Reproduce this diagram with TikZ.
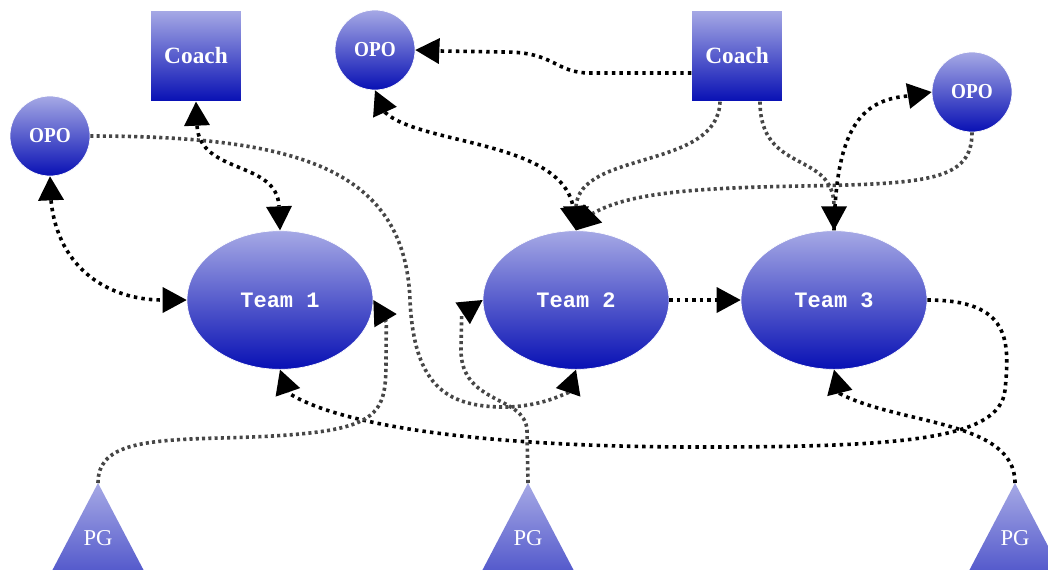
\documentclass[tikz,border=0pt]{standalone}
\usepackage{fontspec}
\setmainfont{Liberation Serif}
\newfontfamily\teamfont{Liberation Mono}
\newfontfamily\condfont[FakeStretch=0.9]{Liberation Serif}
\usetikzlibrary{arrows.meta,calc,shapes.geometric}
\definecolor{shtop}{RGB}{166,169,229}
\definecolor{shbot}{RGB}{8,16,180}
\definecolor{dotgray}{RGB}{70,70,70}
\begin{document}
\begin{tikzpicture}[x=0.75pt,y=-0.75pt,
  >={Triangle[length=18pt,width=19.5pt,line width=0pt,color=black]},
  every node/.style={inner sep=0pt, text=white},
  grad/.style={top color=shtop, bottom color=shbot, draw=white, line width=0.5pt},
  team/.style={grad, ellipse, minimum width=139.5pt, minimum height=104pt,
    font=\teamfont\bfseries\fontsize{16.5}{18}\selectfont},
  coach/.style={grad, rectangle, minimum width=68pt, minimum height=68pt,
    font=\bfseries\fontsize{17.5}{20}\selectfont},
  opo/.style={grad, circle, minimum size=60pt, font=\condfont\bfseries\fontsize{16}{18}\selectfont},
  pglabel/.style={font=\fontsize{17}{19}\selectfont},
  lk/.style={line width=2.7pt, dash pattern=on 2.6pt off 3.1pt, black},
  lg/.style={line width=2.7pt, dash pattern=on 2.3pt off 2.4pt, dotgray}]
\useasboundingbox (0,0) rectangle (1048,569);
\fill[white] (0,0) rectangle (1048,569);
\clip (0,0) rectangle (1048,569);

% nodes
\node[coach] (c1) at (196,56) {Coach};
\node[coach] (c2) at (737,56) {Coach};
\node[opo] (o1) at (50,136) {OPO};
\node[opo] (o2) at (375,50) {OPO};
\node[opo] (o3) at (972,92) {OPO};
\node[team] (t1) at (280,300) {Team 1};
\node[team] (t2) at (576,300) {Team 2};
\node[team] (t3) at (834,300) {Team 3};

% PG triangles
\coordinate (p1a) at (98,483);
\coordinate (p2a) at (528,483);
\coordinate (p3a) at (1015,483);
\foreach \p in {p1a,p2a,p3a}{
  \shade[top color=shtop, bottom color=shbot] (\p) -- ++(-89,170) -- ++(178,0) -- cycle;
}
\node[pglabel] (p1) at (98,538) {PG};
\node[pglabel] (p2) at (528,538) {PG};
\node[pglabel] (p3) at (1015,538) {PG};

% connectors
\draw[lk,<->] (o1.south) -- ($(o1.south)+(1,24)$) .. controls (58,270) and (110,300) .. ($(t1.west)+(-24,0)$) -- (t1.west);
\draw[lk,<->] (c1.south) -- ($(c1.south)+(1,24)$) .. controls (200,175) and (277,160) .. ($(t1.north)+(-1,-24)$) -- (t1.north);
\draw[lg,->] (o1.east) .. controls (300,136) and (405,170) .. (410,300) .. controls (414,390) and (450,408) .. (510,407) .. controls (540,405) and (555,398) .. ($(t2.south)+(-8,23)$) -- (t2.south);
\draw[lk,->] ($(c2.west)+(0,17)$) -- (590,73) .. controls (555,73) and (555,52) .. (505,52) -- ($(o2.east)+(24,1)$) -- (o2.east);
\draw[lk,<->] (o2.south) -- ($(o2.south)+(10,22)$) .. controls (420,145) and (560,140) .. ($(t2.north)+(-3,-24)$) -- (t2.north);
\draw[lg,->] ($(c2.south)+(-17,0)$) .. controls (718,170) and (580,150) .. ($(t2.north)+(0,-24)$) -- (t2.north);
\draw[lg,->] ($(c2.south)+(23,0)$) .. controls (760,175) and (834,150) .. ($(t3.north)+(0,-24)$) -- (t3.north);
\draw[lg,->] (o3.south) .. controls (972,180) and (930,184) .. (800,186) .. controls (700,188) and (630,192) .. ($(t2.north)+(17,-17)$) -- (t2.north);
\draw[lk,->] (t3.north) .. controls (836,130) and (860,100) .. ($(o3.west)+(-24,4)$) -- (o3.west);
\draw[lk,->] (t2.east) -- (t3.west);
\draw[lk,->] (t3.east) .. controls (1010,300) and (1010,340) .. (1005,390) .. controls (1000,440) and (900,447) .. (700,447) .. controls (450,447) and (330,420) .. ($(t1.south)+(8,23)$) -- (t1.south);
\draw[lg,->] (p1a) .. controls (98,445) and (140,440) .. (220,438) .. controls (380,434) and (386,420) .. (386,360) -- ($(t1.east)+(13,22)$) -- (t1.east);
\draw[lg,->] (p2a) -- (527,430) .. controls (525,395) and (461,405) .. (461,350) -- ($(t2.west)+(-21,14)$) -- (t2.west);
\draw[lk,->] (p3a) .. controls (1015,420) and (900,425) .. ($(t3.south)+(6,24)$) -- (t3.south);
\end{tikzpicture}
\end{document}
